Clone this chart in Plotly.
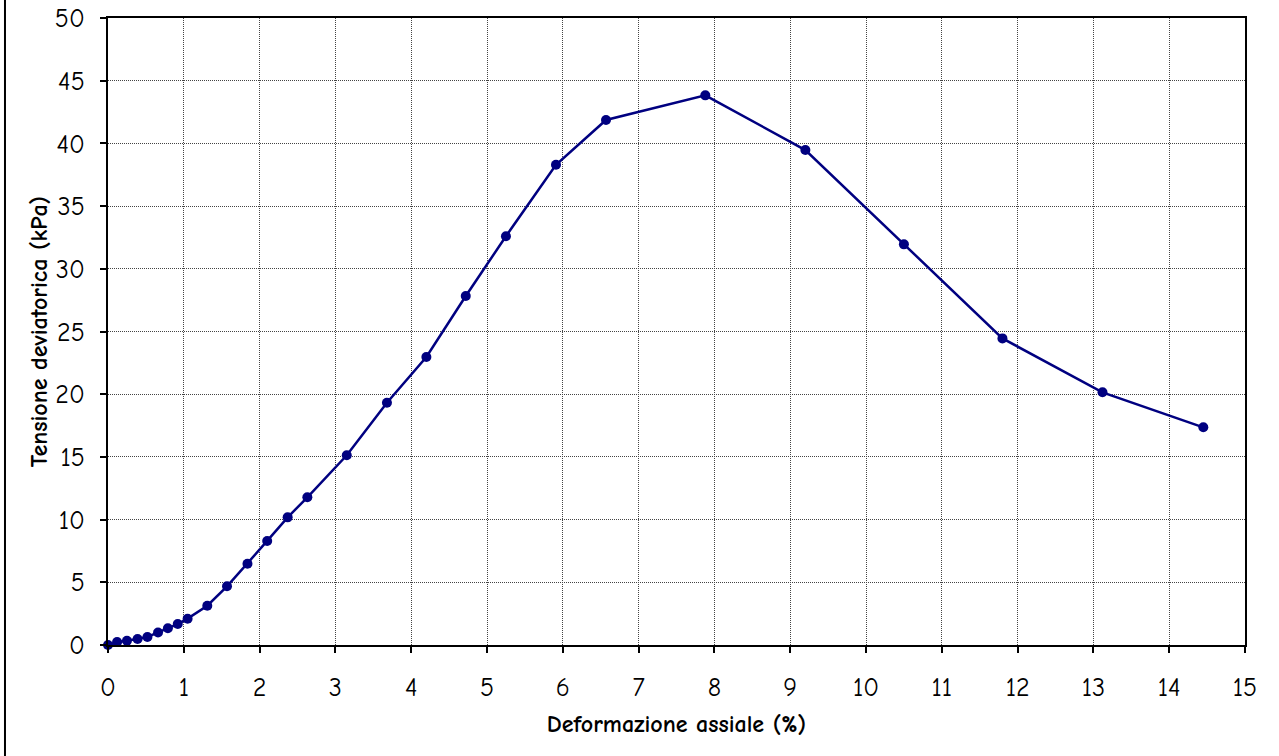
import plotly.graph_objects as go

deformazione = [0.0, 0.12, 0.25, 0.39, 0.52, 0.66, 0.79, 0.92, 1.05, 1.31, 1.57, 1.84,
                2.10, 2.37, 2.63, 3.15, 3.68, 4.20, 4.72, 5.25, 5.91, 6.57, 7.88,
                9.20, 10.50, 11.80, 13.12, 14.45]
tensione = [0.0, 0.24, 0.34, 0.48, 0.64, 1.0, 1.33, 1.67, 2.1, 3.13, 4.68, 6.48,
            8.3, 10.18, 11.78, 15.13, 19.32, 22.97, 27.83, 32.6, 38.3, 41.87, 43.83,
            39.47, 31.95, 24.45, 20.15, 17.36]

x_ticks = list(range(0, 16))
y_ticks = list(range(0, 51, 5))

comic = "Comic Sans MS, Comic Neue, Lato, DejaVu Sans"
title_font = dict(family=comic, size=24, color="black", weight=700)
tick_font = dict(family=comic, size=26, color="black")

fig = go.Figure()
fig.add_trace(go.Scatter(
    x=deformazione, y=tensione, mode="lines+markers",
    line=dict(color="#000080", width=2.5),
    marker=dict(color="#000080", size=10),
    showlegend=False, cliponaxis=False,
))

axis_common = dict(
    showline=True, linecolor="black", linewidth=2, mirror=True,
    ticks="outside", ticklen=6, tickwidth=2, tickcolor="black",
    showgrid=True, gridcolor="#444444", gridwidth=1, griddash="1px,1px",
    zeroline=False, tickfont=tick_font, automargin=False,
)

fig.update_layout(
    width=1279, height=756,
    margin=dict(l=108, r=34, t=18, b=111),
    paper_bgcolor="white", plot_bgcolor="white",
    xaxis=dict(range=[0, 15], tickvals=x_ticks, ticktext=[str(v) for v in x_ticks],
               ticklabelstandoff=12,
               title=dict(text="Deformazione assiale (%)", font=title_font, standoff=13),
               **axis_common),
    yaxis=dict(range=[0, 50], tickvals=y_ticks, ticktext=[str(v) for v in y_ticks],
               ticklabelstandoff=10,
               title=dict(text="Tensione deviatorica (kPa)", font=title_font, standoff=0),
               **axis_common),
    shapes=[dict(type="line", xref="paper", yref="paper",
                 x0=-0.0906, x1=-0.0906, y0=-0.2, y1=1.05,
                 line=dict(color="black", width=2))],
)

fig.write_html("out.html")
